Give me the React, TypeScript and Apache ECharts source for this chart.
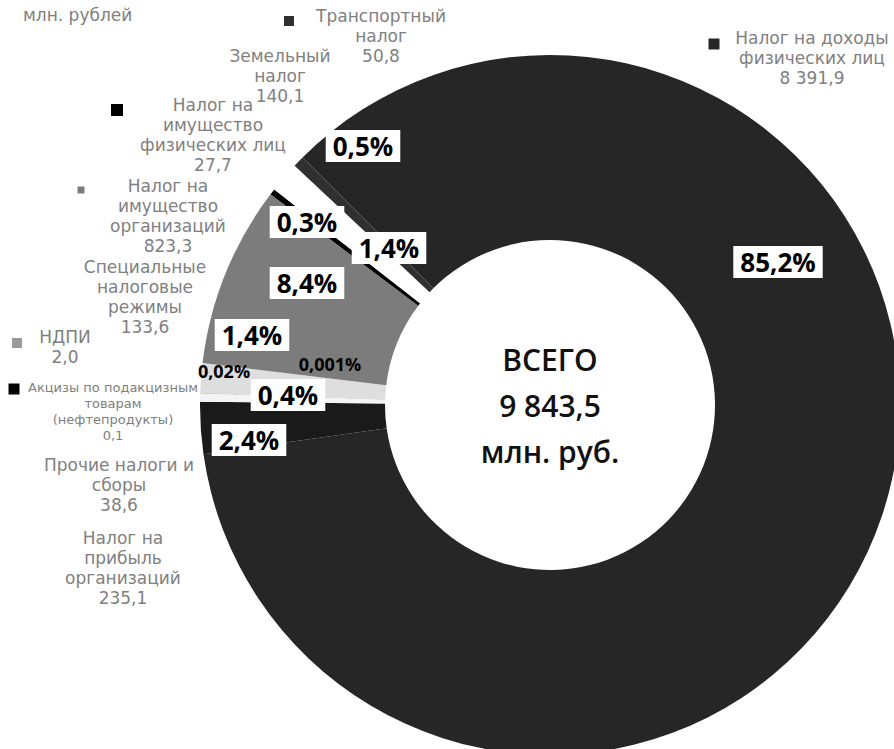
import React, { useEffect, useRef } from "react";
import * as echarts from "echarts";

// ---- data ----
const CATEGORIES = [
  "Налог на доходы физических лиц",
  "Налог на прибыль организаций",
  "Прочие налоги и сборы",
  "Акцизы по подакцизным товарам",
  "НДПИ",
  "Специальные налоговые режимы",
  "Налог на имущество организаций",
  "Налог на имущество физических лиц",
  "Земельный налог",
  "Транспортный налог",
];
const LABEL_TEXT = [
  "Налог на доходы\nфизических лиц",
  "Налог на\nприбыль\nорганизаций",
  "Прочие налоги и\nсборы",
  "Акцизы по подакцизным\nтоварам\n(нефтепродукты)",
  "НДПИ",
  "Специальные\nналоговые\nрежимы",
  "Налог на\nимущество\nорганизаций",
  "Налог на\nимущество\nфизических лиц",
  "Земельный\nналог",
  "Транспортный\nналог",
];
const VALUES = [8391.9, 235.1, 38.6, 0.1, 2.0, 133.6, 823.3, 27.7, 140.1, 50.8];
const SHARES = [85.2, 2.4, 0.4, 0.001, 0.02, 1.4, 8.4, 0.3, 1.4, 0.5];
const TOTAL = 9843.5;
const UNIT_TEXT = "млн. рублей";
const TOTAL_TITLE = "ВСЕГО";
const TOTAL_UNIT = "млн. руб.";

// ---- styles / layout ----
const COLORS = ["#262626", "#1a1a1a", "#f4f4f4", "#000000", "#9a9a9a", "#dedede", "#7c7c7c", "#000000", "#ffffff", "#303030"];
const PCT_POS = [[778, 262], [249, 440], [288, 395], [330, 364], [224, 371], [252, 335], [307, 283], [307, 222], [389, 248], [363, 146]];
const PCT_SMALL = [false, false, false, true, true, false, false, false, false, false];
const NAME_POS = [[812, 28], [123, 528], [119, 455], [113, 379], [65, 327], [145, 257], [168, 176], [213, 95], [280, 46], [381, 6]];
const NAME_SIZE = [17, 17, 17, 13, 17, 17, 17, 17, 17, 17];
const MARKER_POS: (number[] | null)[] = [[714, 44], null, null, [14, 389], [17, 343], null, [81, 190], [117, 110], null, [289, 21]];
const MARKER_SIZE = [11, 0, 0, 11, 10, 0, 7, 12, 0, 10];

function fmt(v: number): string {
  const s = v.toFixed(1);
  const [ip, dp] = s.split(".");
  const withSpaces = ip.replace(/\B(?=(\d{3})+(?!\d))/g, " ");
  return withSpaces + "," + dp;
}

export default function App() {
  const ref = useRef<HTMLDivElement>(null);
  useEffect(() => {
    if (!ref.current) return;
    const chart = echarts.init(ref.current, undefined, { renderer: "svg" });

    const data = CATEGORIES.map((name, i) => ({
      name,
      value: VALUES[i],
      itemStyle: { color: COLORS[i] },
      label: PCT_SMALL[i]
        ? { fontSize: 18, backgroundColor: "transparent", padding: 0 }
        : {},
    }));

    const graphics: any[] = [];
    graphics.push({
      type: "text",
      x: 23,
      y: 15,
      style: {
        text: UNIT_TEXT,
        fill: "#808080",
        fontSize: 17,
        fontFamily: "DejaVu Sans",
        align: "left",
        verticalAlign: "middle",
      },
    });
    CATEGORIES.forEach((_, i) => {
      const [x, y] = NAME_POS[i];
      const fs = NAME_SIZE[i];
      graphics.push({
        type: "text",
        x,
        y,
        style: {
          text: LABEL_TEXT[i] + "\n" + fmt(VALUES[i]),
          fill: "#808080",
          fontSize: fs,
          lineHeight: fs + 3,
          fontFamily: "DejaVu Sans",
          align: "center",
          verticalAlign: "top",
        },
      });
      const m = MARKER_POS[i];
      if (m) {
        const s = MARKER_SIZE[i];
        graphics.push({
          type: "rect",
          shape: { x: m[0] - s / 2, y: m[1] - s / 2, width: s, height: s },
          style: { fill: COLORS[i] },
        });
      }
    });
    graphics.push({
      type: "text",
      x: 550,
      y: 405,
      style: {
        text: TOTAL_TITLE + "\n" + fmt(TOTAL) + "\n" + TOTAL_UNIT,
        fill: "#111",
        fontSize: 30,
        fontWeight: 600,
        lineHeight: 46,
        fontFamily: "Open Sans",
        align: "center",
        verticalAlign: "middle",
      },
    });

    chart.setOption({
      animation: false,
      backgroundColor: "#ffffff",
      series: [
        {
          type: "pie",
          center: [550, 405],
          radius: [165, 350],
          startAngle: 135,
          clockwise: true,
          avoidLabelOverlap: false,
          itemStyle: { borderWidth: 0 },
          label: {
            show: true,
            position: "inside",
            formatter: (p: any) => String(SHARES[p.dataIndex]).replace(".", ",") + "%",
            fontFamily: "Open Sans",
            fontWeight: "bold",
            fontSize: 26,
            color: "#000",
            backgroundColor: "#ffffff",
            padding: [3, 7],
          },
          labelLine: { show: false },
          labelLayout: (params: any) => {
            const p = PCT_POS[params.dataIndex];
            return { x: p[0], y: p[1], align: "center", verticalAlign: "middle" };
          },
          emphasis: { disabled: true },
          data,
        },
      ],
      graphic: graphics,
    });
    return () => chart.dispose();
  }, []);
  return (
    <div
      ref={ref}
      style={{ position: "fixed", left: 0, top: 0, width: 894, height: 749, background: "#fff" }}
    />
  );
}
